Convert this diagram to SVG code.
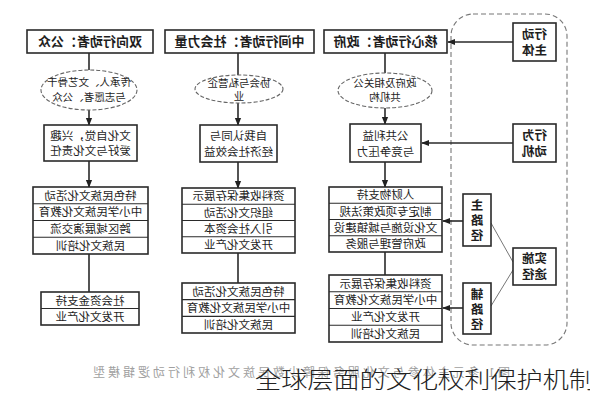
<svg xmlns="http://www.w3.org/2000/svg" width="590" height="400" viewBox="0 0 590 400">
<defs>
<marker id="ah" viewBox="0 0 10 10" refX="9" refY="5" markerWidth="5" markerHeight="5" orient="auto-start-reverse">
<path d="M0,1 L10,5 L0,9 Z" fill="#222"/>
</marker>
<style>
text{font-family:"Noto Sans CJK SC","Noto Sans",sans-serif;fill:#1e1e1e;text-anchor:middle}
.h{font-size:13px;font-weight:bold}
.e{font-size:10.5px}
.b{font-size:11.5px}
.l{font-size:11.5px}
.s{font-size:12.5px;font-weight:bold}
.v{font-size:12.5px;font-weight:bold;writing-mode:tb;letter-spacing:2.5px}
.box{fill:#fff;stroke:#2a2a2a;stroke-width:1.6}
.row{stroke:#2a2a2a;stroke-width:1.2}
.ell{fill:#fff;stroke:#666;stroke-width:1.1;stroke-dasharray:4 2}
.ln{stroke:#2a2a2a;stroke-width:1.6;fill:none}
.thin{stroke:#777;stroke-width:1;fill:none}
.cap{font-size:12px;fill:#a0a0a0}
.wm{font-size:23px;font-weight:300;fill:#222;text-anchor:start}
</style>
</defs>
<rect width="590" height="400" fill="#fff"/>

<g id="frame">
<rect x="451" y="14" width="116" height="331" rx="22" fill="none" stroke="#777" stroke-width="1.1" stroke-dasharray="5 3"/>
</g>

<g id="connectors">
<line class="ln" x1="89" y1="53" x2="89" y2="70"/>
<line class="ln" x1="89" y1="110" x2="89" y2="125" marker-end="url(#ah)"/>
<line class="ln" x1="89" y1="161" x2="89" y2="187" marker-end="url(#ah)"/>
<line class="ln" x1="89" y1="254" x2="89" y2="292"/>
<line class="ln" x1="238" y1="53" x2="238" y2="75"/>
<line class="ln" x1="238" y1="103" x2="238" y2="125" marker-end="url(#ah)"/>
<line class="ln" x1="238" y1="162" x2="238" y2="188" marker-end="url(#ah)"/>
<line class="ln" x1="238" y1="253" x2="238" y2="283"/>
<line class="ln" x1="385" y1="53" x2="385" y2="73"/>
<line class="ln" x1="385" y1="108" x2="385" y2="124" marker-end="url(#ah)"/>
<line class="ln" x1="385" y1="162" x2="385" y2="187" marker-end="url(#ah)"/>
<line class="ln" x1="385" y1="252" x2="385" y2="275"/>
<line class="ln" x1="513" y1="42" x2="448" y2="42" marker-end="url(#ah)"/>
<line class="ln" x1="513" y1="143" x2="422" y2="143" marker-end="url(#ah)"/>
<line class="ln" x1="463" y1="221" x2="443" y2="221" marker-end="url(#ah)"/>
<line class="ln" x1="463" y1="308" x2="443" y2="308" marker-end="url(#ah)"/>
<line class="thin" x1="513" y1="262" x2="491" y2="223"/>
<line class="thin" x1="513" y1="270" x2="491" y2="306"/>
</g>

<g id="h1"><rect class="box" x="27" y="30" width="126" height="23"/><text class="h" x="-90" y="46" transform="scale(-1,1)">双向行动者：公众</text></g>
<g id="h2"><rect class="box" x="165" y="30" width="149" height="23"/><text class="h" x="-239.5" y="46" transform="scale(-1,1)">中间行动者：社会力量</text></g>
<g id="h3"><rect class="box" x="324" y="30" width="123" height="23"/><text class="h" x="-385.5" y="46" transform="scale(-1,1)">核心行动者：政府</text></g>

<g id="e1"><ellipse class="ell" cx="89" cy="90" rx="48" ry="20"/><text class="e" x="-89" y="86" transform="scale(-1,1)">传承人、文艺骨干</text><text class="e" x="-89" y="101" transform="scale(-1,1)">与志愿者、公众</text></g>
<g id="e2"><ellipse class="ell" cx="239" cy="89" rx="44" ry="14"/><text class="e" x="-239" y="87" transform="scale(-1,1)">协会与私营企</text><text class="e" x="-239" y="100" transform="scale(-1,1)">业</text></g>
<g id="e3"><ellipse class="ell" cx="385" cy="90.5" rx="47" ry="17.5"/><text class="e" x="-385" y="87" transform="scale(-1,1)">政府及相关公</text><text class="e" x="-385" y="101" transform="scale(-1,1)">共机构</text></g>

<g id="m1"><rect class="box" x="44" y="125" width="93" height="36"/><text class="b" x="-90.5" y="140" transform="scale(-1,1)">文化自觉，兴趣</text><text class="b" x="-90.5" y="155" transform="scale(-1,1)">爱好与文化责任</text></g>
<g id="m2"><rect class="box" x="200" y="125" width="77" height="37"/><text class="b" x="-238.5" y="140" transform="scale(-1,1)">自我认同与</text><text class="b" x="-238.5" y="156" transform="scale(-1,1)">经济社会效益</text></g>
<g id="m3"><rect class="box" x="350" y="124" width="71" height="38"/><text class="b" x="-385.5" y="140" transform="scale(-1,1)">公共利益</text><text class="b" x="-385.5" y="156" transform="scale(-1,1)">与竞争压力</text></g>

<g id="l1">
<rect class="box" x="33" y="187" width="115" height="67"/>
<line class="row" x1="33" y1="203.75" x2="148" y2="203.75"/><line class="row" x1="33" y1="220.5" x2="148" y2="220.5"/><line class="row" x1="33" y1="237.25" x2="148" y2="237.25"/>
<text class="l" x="-90.5" y="199.5" transform="scale(-1,1)">特色民族文化活动</text>
<text class="l" x="-90.5" y="216.3" transform="scale(-1,1)">中小学民族文化教育</text>
<text class="l" x="-90.5" y="233" transform="scale(-1,1)">跨区域展演交流</text>
<text class="l" x="-90.5" y="249.8" transform="scale(-1,1)">民族文化培训</text>
</g>
<g id="l1b">
<rect class="box" x="41" y="292" width="98" height="33"/>
<line class="row" x1="41" y1="308.5" x2="139" y2="308.5"/>
<text class="l" x="-90" y="304.5" transform="scale(-1,1)">社会资金支持</text>
<text class="l" x="-90" y="321" transform="scale(-1,1)">开发文化产业</text>
</g>

<g id="l2">
<rect class="box" x="182" y="188" width="113" height="65"/>
<line class="row" x1="182" y1="204.25" x2="295" y2="204.25"/><line class="row" x1="182" y1="220.5" x2="295" y2="220.5"/><line class="row" x1="182" y1="236.75" x2="295" y2="236.75"/>
<text class="l" x="-238.5" y="200.3" transform="scale(-1,1)">资料收集保存展示</text>
<text class="l" x="-238.5" y="216.6" transform="scale(-1,1)">组织文化活动</text>
<text class="l" x="-238.5" y="232.8" transform="scale(-1,1)">引入社会资本</text>
<text class="l" x="-238.5" y="249" transform="scale(-1,1)">开发文化产业</text>
</g>
<g id="l2b">
<rect class="box" x="182" y="283" width="113" height="50"/>
<line class="row" x1="182" y1="299.7" x2="295" y2="299.7"/><line class="row" x1="182" y1="316.3" x2="295" y2="316.3"/>
<text class="l" x="-238.5" y="295.5" transform="scale(-1,1)">特色民族文化活动</text>
<text class="l" x="-238.5" y="312.2" transform="scale(-1,1)">中小学民族文化教育</text>
<text class="l" x="-238.5" y="328.8" transform="scale(-1,1)">民族文化培训</text>
</g>

<g id="l3">
<rect class="box" x="329" y="187" width="113" height="65"/>
<line class="row" x1="329" y1="203.25" x2="442" y2="203.25"/><line class="row" x1="329" y1="219.5" x2="442" y2="219.5"/><line class="row" x1="329" y1="235.75" x2="442" y2="235.75"/>
<text class="l" x="-385.5" y="199.3" transform="scale(-1,1)">人财物支持</text>
<text class="l" x="-385.5" y="215.6" transform="scale(-1,1)">制定专项政策法规</text>
<text class="l" x="-385.5" y="231.8" transform="scale(-1,1)">文化设施与城镇建设</text>
<text class="l" x="-385.5" y="248" transform="scale(-1,1)">政府管理与服务</text>
</g>
<g id="l3b">
<rect class="box" x="329" y="275" width="113" height="67"/>
<line class="row" x1="329" y1="291.75" x2="442" y2="291.75"/><line class="row" x1="329" y1="308.5" x2="442" y2="308.5"/><line class="row" x1="329" y1="325.25" x2="442" y2="325.25"/>
<text class="l" x="-385.5" y="287.5" transform="scale(-1,1)">资料收集保存展示</text>
<text class="l" x="-385.5" y="304.3" transform="scale(-1,1)">中小学民族文化教育</text>
<text class="l" x="-385.5" y="321" transform="scale(-1,1)">开发文化产业</text>
<text class="l" x="-385.5" y="337.8" transform="scale(-1,1)">民族文化培训</text>
</g>

<g id="s1"><rect class="box" x="513" y="23" width="43" height="38"/><text class="s" x="-534.5" y="38.5" transform="scale(-1,1)">行动</text><text class="s" x="-534.5" y="55" transform="scale(-1,1)">主体</text></g>
<g id="s2"><rect class="box" x="513" y="124" width="43" height="38"/><text class="s" x="-534.5" y="139.5" transform="scale(-1,1)">行为</text><text class="s" x="-534.5" y="156" transform="scale(-1,1)">动机</text></g>
<g id="s3"><rect class="box" x="513" y="248" width="43" height="37"/><text class="s" x="-534.5" y="263" transform="scale(-1,1)">实施</text><text class="s" x="-534.5" y="279" transform="scale(-1,1)">途径</text></g>
<g id="s4"><rect class="box" x="463" y="194" width="28" height="52"/><text class="v" x="-477" y="221.5" transform="scale(-1,1)">主路径</text></g>
<g id="s5"><rect class="box" x="463" y="283" width="28" height="51"/><text class="v" x="-477" y="310" transform="scale(-1,1)">辅路径</text></g>

<g id="caption"><text class="cap" x="-301.5" y="377" transform="scale(-1,1)" textLength="417" lengthAdjust="spacing">图1  多元主体参与文化服务保障少数民族文化权利行动逻辑模型</text></g>
<g id="watermark"><text class="wm" x="255" y="388" textLength="340" lengthAdjust="spacingAndGlyphs">全球层面的文化权利保护机制</text></g>
</svg>
